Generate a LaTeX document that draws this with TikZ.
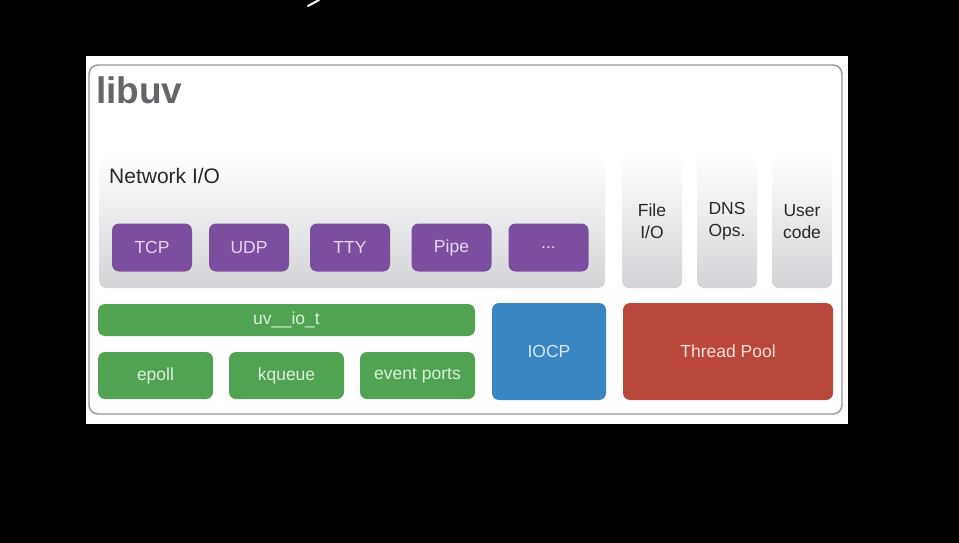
\documentclass[tikz,border=0pt]{standalone}
\usepackage{fontspec}
\setmainfont{Liberation Sans}
\definecolor{purp}{RGB}{124,78,160}
\definecolor{purptxt}{RGB}{228,214,240}
\definecolor{grn}{RGB}{80,163,80}
\definecolor{grntxt}{RGB}{218,240,218}
\definecolor{blu}{RGB}{58,134,194}
\definecolor{blutxt}{RGB}{212,232,248}
\definecolor{rd}{RGB}{186,72,58}
\definecolor{rdtxt}{RGB}{248,222,216}
\definecolor{panelgray}{RGB}{212,212,216}
\definecolor{bordergray}{RGB}{150,150,150}
\definecolor{titlegray}{RGB}{102,102,106}
\definecolor{labeltxt}{RGB}{40,40,44}
\tikzset{
  cbox/.style={rounded corners=7pt, inner sep=0pt, align=center,
    font=\fontsize{17.5}{22}\selectfont},
  purplebox/.style={cbox, fill=purp, text=purptxt, minimum width=80, minimum height=48},
  greenbox/.style={cbox, fill=grn, text=grntxt},
  column/.style={cbox, top color=white, bottom color=panelgray, text=labeltxt,
    minimum width=60, minimum height=133},
}
\begin{document}
\begin{tikzpicture}[x=1pt,y=-1pt]
\useasboundingbox (0,0) rectangle (959,543);
\fill[black] (0,0) rectangle (959,543);
% cut-off glyph at the top
\draw[white, line width=2pt, line cap=round] (308,6) -- (319,0);
% white slide
\fill[white] (86,56) rectangle (848,424);
% outer libuv frame
\draw[bordergray, line width=1.4pt, rounded corners=9pt] (89,65) rectangle (842,414);
\node[anchor=base west, inner sep=0pt, text=titlegray, font=\fontsize{37}{40}\selectfont\bfseries] (title) at (96,103) {libuv};
% Network I/O panel
\node[cbox, top color=white, bottom color=panelgray, minimum width=506, minimum height=133] (net) at (352,221.5) {};
\node[anchor=base west, inner sep=0pt, text=labeltxt, font=\fontsize{21}{24}\selectfont] (netlabel) at (109,183) {Network I/O};
\node[purplebox] (tcp) at (152,247.5) {TCP};
\node[purplebox] (udp) at (249,247.5) {UDP};
\node[purplebox] (tty) at (350,247.5) {TTY};
\node[purplebox] (pipe) at (451.5,247.5) {Pipe};
\node[purplebox] (more) at (548.5,247.5) {...};
% right columns
\node[column] (file) at (652,221.5) {File\\I/O};
\node[column] (dns) at (727,221.5) {DNS\\Ops.};
\node[column] (user) at (802,221.5) {User\\code};
% green layer
\node[greenbox, minimum width=377, minimum height=32] (uvio) at (286.5,320) {uv\_\kern0.5pt\_io\_t};
\node[greenbox, minimum width=115, minimum height=47] (epoll) at (155.5,375.5) {epoll};
\node[greenbox, minimum width=115, minimum height=47] (kqueue) at (286.5,375.5) {kqueue};
\node[greenbox, minimum width=115, minimum height=47] (evports) at (417.5,375.5) {event ports};
% IOCP and thread pool
\node[cbox, fill=blu, text=blutxt, minimum width=114, minimum height=97] (iocp) at (549,351.5) {IOCP};
\node[cbox, fill=rd, text=rdtxt, minimum width=210, minimum height=97] (pool) at (728,351.5) {Thread Pool};
\end{tikzpicture}
\end{document}
